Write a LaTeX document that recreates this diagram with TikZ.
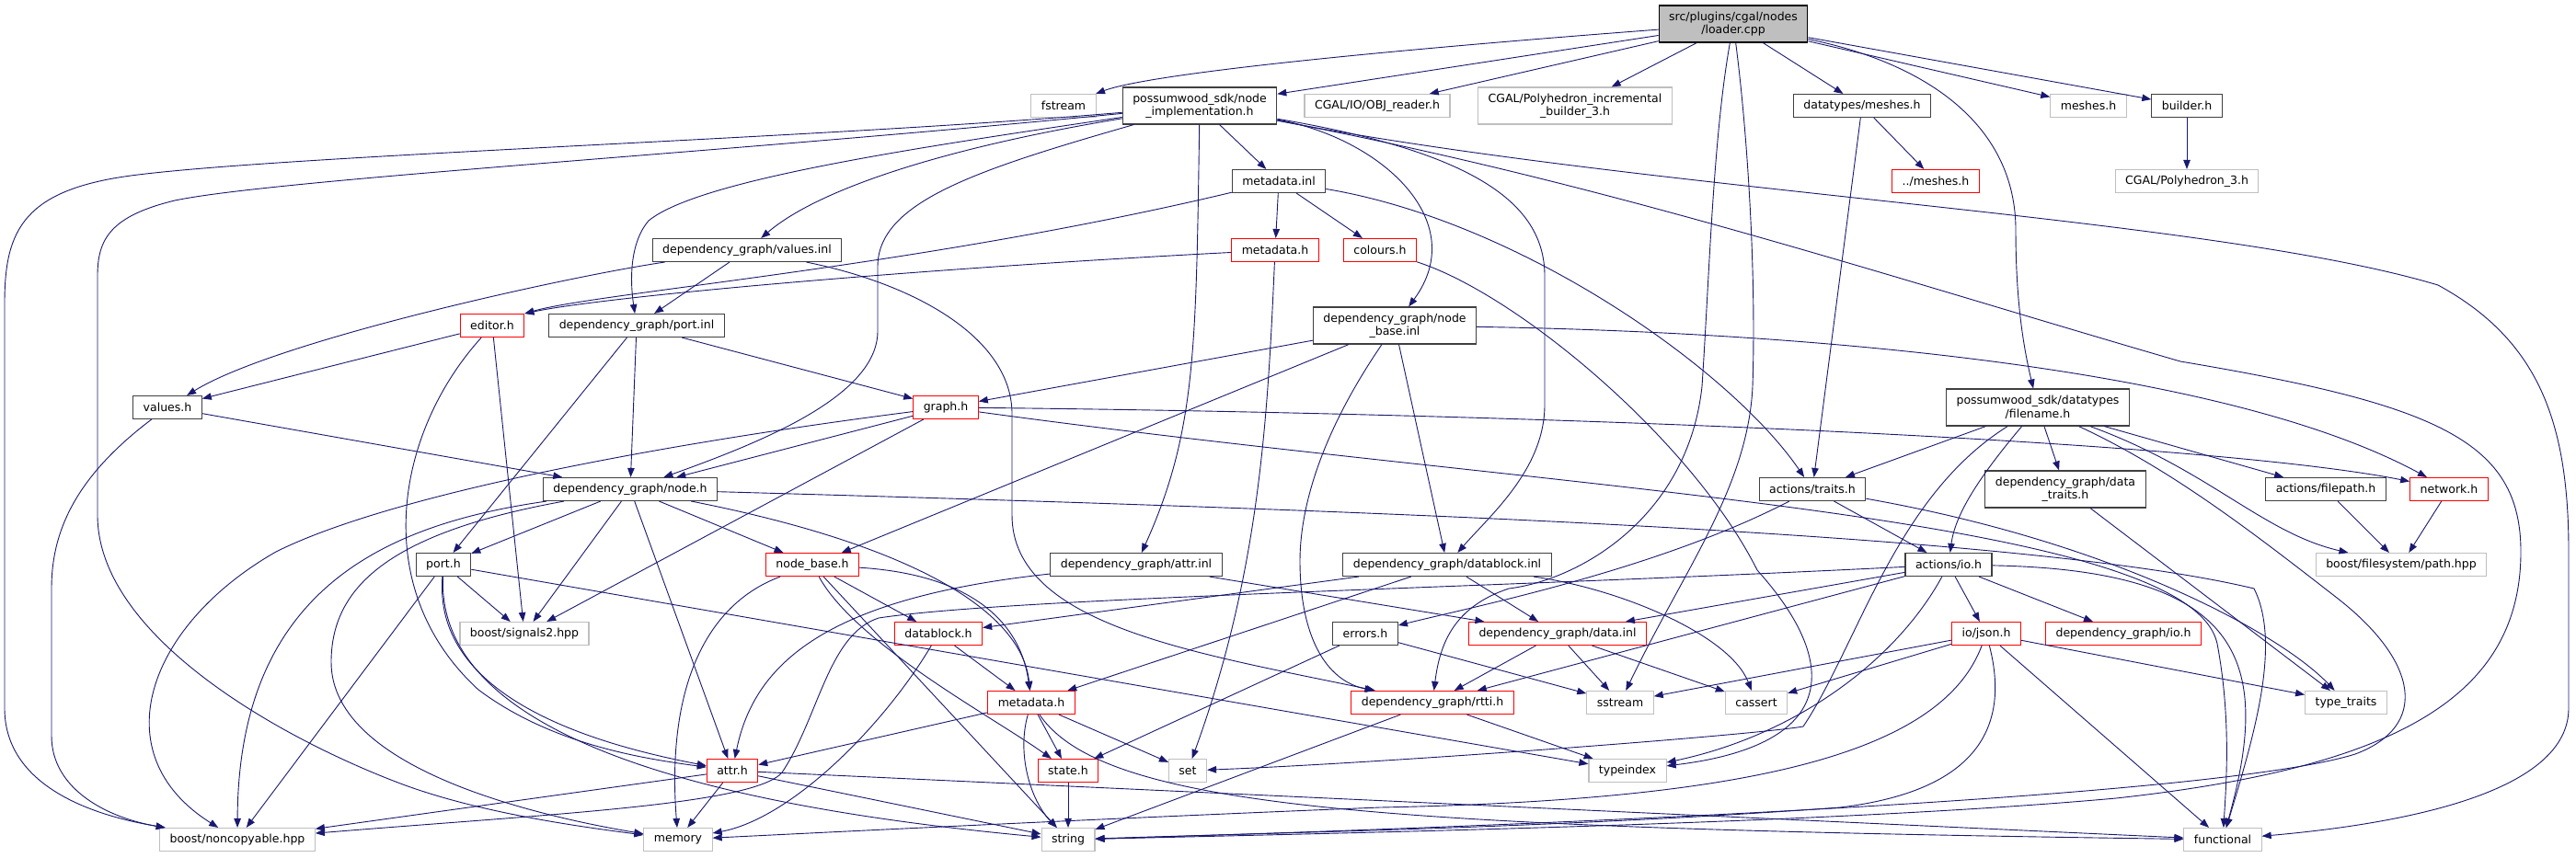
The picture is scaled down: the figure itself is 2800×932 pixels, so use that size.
\documentclass[tikz,border=0pt]{standalone}
\usepackage{fontspec}
\setmainfont{DejaVu Sans}
\usepackage{tikz}
\usetikzlibrary{arrows.meta}

\definecolor{edgeblue}{HTML}{191970}
\definecolor{sysgray}{HTML}{BFBFBF}
\definecolor{cutred}{HTML}{FF0000}
\definecolor{boxline}{HTML}{404040}

\begin{document}
\begin{tikzpicture}[x=1pt, y=-1pt,
    hdr/.style={draw=boxline, line width=1.1pt, fill=white, inner xsep=11pt, inner ysep=1pt,
      minimum height=25pt, align=center, font=\fontsize{12.5}{14.5}\selectfont},
    syshdr/.style={hdr, draw=sysgray},
    cuthdr/.style={hdr, draw=cutred},
    srchdr/.style={hdr, draw=black, fill=sysgray, minimum height=40pt},
    tall/.style={minimum height=40pt},
    dep/.style={draw=edgeblue, line width=0.9pt, -{Triangle[length=10pt, width=7.5pt]}}]
                        % canvas
                        \fill[white] (0,0) rectangle (2800,932);
                        \useasboundingbox (0,0) rectangle (2800,932);
                        % row 1
                        \node[srchdr] (loader) at (1884,26) {src/plugins/cgal/nodes\\/loader.cpp};
                        % row 2
                        \node[syshdr] (fstream) at (1156,115) {fstream};
                        \node[hdr,tall] (nimpl) at (1304,115) {possumwood\_sdk/node\\\_implementation.h};
                        \node[syshdr] (objr) at (1497,115) {CGAL/IO/OBJ\_reader.h};
                        \node[syshdr,tall] (pinc) at (1712,115) {CGAL/Polyhedron\_incremental\\\_builder\_3.h};
                        \node[hdr] (dmesh) at (2024,115) {datatypes/meshes.h};
                        \node[syshdr] (meshes) at (2270,115) {meshes.h};
                        \node[hdr] (builder) at (2377,115) {builder.h};
                        % row 3
                        \node[hdr] (mdinl) at (1390,197) {metadata.inl};
                        \node[cuthdr] (dotmesh) at (2104,197) {../meshes.h};
                        \node[syshdr] (poly3) at (2377,197) {CGAL/Polyhedron\_3.h};
                        % row 4
                        \node[hdr] (valinl) at (812,272) {dependency\_graph/values.inl};
                        \node[cuthdr] (mdtop) at (1386,272) {metadata.h};
                        \node[cuthdr] (colours) at (1500,272) {colours.h};
                        % row 5
                        \node[cuthdr] (editor) at (535,354) {editor.h};
                        \node[hdr] (portinl) at (692,354) {dependency\_graph/port.inl};
                        \node[hdr,tall] (nbinl) at (1516,354) {dependency\_graph/node\\\_base.inl};
                        % row 6
                        \node[hdr] (valh) at (182,443) {values.h};
                        \node[cuthdr] (graph) at (1028,443) {graph.h};
                        \node[hdr,tall] (fname) at (2215,443) {possumwood\_sdk/datatypes\\/filename.h};
                        % row 7
                        \node[hdr] (nodeh) at (685,532) {dependency\_graph/node.h};
                        \node[hdr] (traits) at (1970,532) {actions/traits.h};
                        \node[hdr,tall] (dtraits) at (2245,532) {dependency\_graph/data\\\_traits.h};
                        \node[hdr] (fpath) at (2528,532) {actions/filepath.h};
                        \node[cuthdr] (network) at (2662,532) {network.h};
                        % row 8
                        \node[hdr] (porth) at (482,614) {port.h};
                        \node[cuthdr] (nbh) at (883,614) {node\_base.h};
                        \node[hdr] (attrinl) at (1235,614) {dependency\_graph/attr.inl};
                        \node[hdr] (dbinl) at (1573,614) {dependency\_graph/datablock.inl};
                        \node[hdr] (ioh) at (2118,614) {actions/io.h};
                        \node[syshdr] (path) at (2610,614) {boost/filesystem/path.hpp};
                        % row 9
                        \node[syshdr] (signals) at (570,689) {boost/signals2.hpp};
                        \node[cuthdr] (dbh) at (1020,689) {datablock.h};
                        \node[hdr] (errors) at (1484,689) {errors.h};
                        \node[cuthdr] (datainl) at (1693,689) {dependency\_graph/data.inl};
                        \node[cuthdr] (json) at (2159,689) {io/json.h};
                        \node[cuthdr] (dgio) at (2308,689) {dependency\_graph/io.h};
                        % row 10
                        \node[cuthdr] (mdbot) at (1121,764) {metadata.h};
                        \node[cuthdr] (rtti) at (1557,764) {dependency\_graph/rtti.h};
                        \node[syshdr] (sstream) at (1761,764) {sstream};
                        \node[syshdr] (cassert) at (1909,764) {cassert};
                        \node[syshdr] (ttraits) at (2550,764) {type\_traits};
                        % row 11
                        \node[cuthdr] (attrh) at (796,838) {attr.h};
                        \node[cuthdr] (state) at (1161,838) {state.h};
                        \node[syshdr] (set) at (1291,838) {set};
                        \node[syshdr] (typeindex) at (1769,838) {typeindex};
                        % row 12
                        \node[syshdr] (noncop) at (258,913) {boost/noncopyable.hpp};
                        \node[syshdr] (memory) at (737,913) {memory};
                        \node[syshdr] (string) at (1161,913) {string};
                        \node[syshdr] (functional) at (2416,913) {functional};

                        % plain includes
                        \foreach \s/\t in {
                              loader/nimpl, loader/objr, loader/pinc, loader/dmesh, loader/meshes, loader/builder,
                              builder/poly3, dmesh/dotmesh, dmesh/traits,
                              nimpl/mdinl, mdinl/mdtop, mdinl/colours,
                              valinl/portinl, editor/valh, editor/signals,
                              portinl/graph, portinl/nodeh, portinl/porth,
                              nbinl/graph, nbinl/nbh, nbinl/dbinl,
                              valh/nodeh, graph/nodeh, graph/signals,
                              fname/traits, fname/dtraits, fname/fpath,
                              dtraits/ttraits, fpath/path, network/path, traits/ioh,
                              nodeh/porth, nodeh/signals, nodeh/nbh, nodeh/attrh,
                              porth/signals, porth/noncop, porth/typeindex,
                              nbh/dbh, nbh/string,
                              attrinl/datainl, dbinl/dbh, dbinl/mdbot, dbinl/datainl,
                              ioh/datainl, ioh/rtti, ioh/json, ioh/dgio,
                              errors/state, errors/sstream,
                              datainl/rtti, datainl/sstream, datainl/cassert,
                              dbh/mdbot, mdbot/attrh, mdbot/state, mdbot/set,
                              rtti/typeindex, rtti/string,
                              attrh/noncop, attrh/memory, attrh/string, attrh/functional,
                              state/string,
                              json/sstream, json/cassert, json/ttraits, json/functional} {
                            \draw[dep] (\s) -- (\t);
                        }

                        % routed includes from loader.cpp
                        \draw[dep] (loader) .. controls (1500,55) and (1250,80) .. (fstream);
                        \draw[dep] (loader) .. controls (2100,70) and (2191,140) .. (2191,250)
                              .. controls (2191,330) and (2200,380) .. (fname);
                        \draw[dep] (loader) .. controls (1900,150) and (1909,300) .. (1905,420)
                              .. controls (1900,530) and (1830,620) .. (sstream);
                        \draw[dep] (loader) .. controls (1862,150) and (1858,300) .. (1850,420)
                              .. controls (1835,560) and (1720,630) .. (1640,640)
                              .. controls (1580,660) and (1565,700) .. (rtti);

                        % routed includes from node_implementation.h
                        \draw[dep] (nimpl) .. controls (900,150) and (330,168) .. (150,190)
                              .. controls (25,205) and (5,250) .. (5,330) -- (5,770)
                              .. controls (5,850) and (90,885) .. (noncop);
                        \draw[dep] (nimpl) .. controls (800,165) and (300,195) .. (190,218)
                              .. controls (120,235) and (106,260) .. (106,300) -- (106,560)
                              .. controls (106,690) and (300,800) .. (430,850)
                              .. controls (520,885) and (640,900) .. (memory);
                        \draw[dep] (nimpl) .. controls (1030,160) and (890,205) .. (valinl);
                        \draw[dep] (nimpl) .. controls (1000,160) and (760,195) .. (705,240)
                              .. controls (686,262) and (684,300) .. (portinl);
                        \draw[dep] (nimpl) .. controls (1060,185) and (954,220) .. (954,290) -- (954,360)
                              .. controls (954,430) and (830,480) .. (nodeh);
                        \draw[dep] (nimpl) .. controls (1300,380) and (1300,470) .. (attrinl);
                        \draw[dep] (nimpl) .. controls (1500,150) and (1600,240) .. (nbinl);
                        \draw[dep] (nimpl) .. controls (1600,165) and (1679,220) .. (1679,300) -- (1679,440)
                              .. controls (1679,510) and (1620,560) .. (dbinl);
                        \draw[dep] (nimpl) .. controls (1800,210) and (2400,235) .. (2650,310)
                              .. controls (2760,370) and (2792,460) .. (2792,600) -- (2792,770)
                              .. controls (2792,860) and (2620,895) .. (functional);
                        \draw[dep] (nimpl) .. controls (1750,200) and (2050,300) .. (2370,393)
                              .. controls (2650,440) and (2740,480) .. (2740,600)
                              .. controls (2740,760) and (2600,835) .. (2300,868)
                              .. controls (2000,895) and (1500,905) .. (string);

                        % routed includes of the sdk headers
                        \draw[dep] (mdinl) .. controls (1000,290) and (650,318) .. (editor.north east);
                        \draw[dep] (mdtop) .. controls (1000,292) and (660,322) .. (editor.north east);
                        \draw[dep] (mdinl) .. controls (1650,240) and (1880,400) .. (traits);
                        \draw[dep] (mdtop) .. controls (1378,450) and (1370,620) .. (set);
                        \draw[dep] (colours) .. controls (1650,320) and (1840,480) .. (1910,620)
                              .. controls (2000,720) and (2000,810) .. (typeindex);
                        \draw[dep] (valinl) .. controls (620,300) and (300,370) .. (valh);
                        \draw[dep] (valinl) .. controls (1000,310) and (1100,370) .. (1100,450) -- (1100,560)
                              .. controls (1100,680) and (1300,710) .. (rtti);
                        \draw[dep] (editor) .. controls (430,470) and (400,640) .. (520,750)
                              .. controls (600,810) and (700,825) .. (attrh);

                        % routed includes of dependency_graph
                        \draw[dep] (nbinl) .. controls (1430,480) and (1413,560) .. (1413,610)
                              .. controls (1413,690) and (1440,740) .. (rtti);
                        \draw[dep] (nbinl) .. controls (1900,360) and (2400,390) .. (network);
                        \draw[dep] (valh) .. controls (80,520) and (56,580) .. (56,640) -- (56,800)
                              .. controls (56,860) and (120,890) .. (noncop);
                        \draw[dep] (graph) .. controls (700,485) and (420,540) .. (300,600)
                              .. controls (160,680) and (110,820) .. (noncop);
                        \draw[dep] (graph) .. controls (1700,450) and (2400,480) .. (network);
                        \draw[dep] (graph) .. controls (1700,535) and (2380,560) .. (2410,700)
                              .. controls (2425,780) and (2420,850) .. (functional);
                        \draw[dep] (nodeh) .. controls (420,570) and (259,640) .. (noncop);
                        \draw[dep] (nodeh) .. controls (420,580) and (360,640) .. (360,720)
                              .. controls (360,840) and (600,890) .. (memory);
                        \draw[dep] (nodeh) .. controls (980,590) and (1110,660) .. (mdbot);
                        \draw[dep] (nodeh) .. controls (1500,555) and (2200,580) .. (2450,640)
                              .. controls (2480,700) and (2450,800) .. (functional);
                        \draw[dep] (porth) .. controls (470,760) and (650,810) .. (attrh);
                        \draw[dep] (porth) .. controls (475,780) and (700,870) .. (string);
                        \draw[dep] (nbh) .. controls (1060,625) and (1110,680) .. (mdbot);
                        \draw[dep] (nbh) .. controls (930,700) and (1080,780) .. (state);
                        \draw[dep] (nbh) .. controls (760,660) and (725,760) .. (memory);
                        \draw[dep] (attrinl) .. controls (900,650) and (820,720) .. (attrh);
                        \draw[dep] (dbinl) .. controls (1760,640) and (1880,690) .. (cassert);
                        \draw[dep] (dbh) .. controls (960,790) and (860,890) .. (memory);
                        \draw[dep] (mdbot) .. controls (1105,820) and (1120,870) .. (string);
                        \draw[dep] (mdbot) .. controls (1200,880) and (1500,900) .. (functional);

                        % routed includes of the actions headers
                        \draw[dep] (fname) .. controls (2150,520) and (2125,560) .. (ioh);
                        \draw[dep] (fname) .. controls (2400,510) and (2460,580) .. (path);
                        \draw[dep] (fname) .. controls (2060,540) and (2020,700) .. (1960,790)
                              .. controls (1900,800) and (1500,830) .. (set);
                        \draw[dep] (fname) .. controls (2360,510) and (2450,580) .. (2540,650)
                              .. controls (2630,720) and (2640,790) .. (2560,820)
                              .. controls (2400,870) and (1600,900) .. (string);
                        \draw[dep] (traits) .. controls (1800,620) and (1600,660) .. (errors);
                        \draw[dep] (traits) .. controls (2300,590) and (2480,690) .. (ttraits);
                        \draw[dep] (ioh) .. controls (1600,640) and (1100,650) .. (955,672)
                              .. controls (900,690) and (890,780) .. (850,840)
                              .. controls (820,875) and (600,885) .. (noncop);
                        \draw[dep] (ioh) .. controls (2060,720) and (1950,800) .. (typeindex);
                        \draw[dep] (ioh) .. controls (2440,620) and (2470,720) .. (functional);
                        \draw[dep] (json) .. controls (2185,790) and (2150,860) .. (2000,878)
                              .. controls (1700,900) and (1400,905) .. (string);
                        \draw[dep] (json) .. controls (2110,820) and (1900,870) .. (1500,878)
                              .. controls (1200,890) and (900,905) .. (memory);
                    \end{tikzpicture}
\end{document}
